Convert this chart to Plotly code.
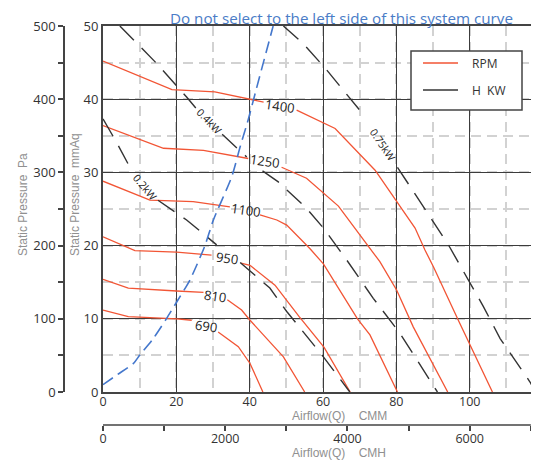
import plotly.graph_objects as go

# ---------------- data ----------------
# Fan curves, static pressure (mmAq) vs airflow (CMM); None = gap under label
rpm_labels = ["1400", "1250", "1100", "950", "810", "690"]
rpm_1400_x = [0, 18.8, 30.5, 40.5, 43.8, None, 52.8, 63.3, 74.2, 80.1, 85.1, 87.8, 90.1, 96.9, 100.1, 106.2]
rpm_1400_y = [45.2, 41.3, 41.0, 40.0, 39.6, None, 38.5, 36.0, 30.3, 26.0, 22.4, 19.4, 17.1, 9.8, 6.4, 0]
rpm_1250_x = [0, 16.5, 27.4, 39.6, None, 48.7, 55.5, 64.2, 71.0, 75.5, 80.1, 84.6, 94.0]
rpm_1250_y = [36.4, 33.3, 33.0, 31.9, None, 30.7, 29.2, 25.4, 20.8, 17.8, 13.9, 8.9, 0]
rpm_1100_x = [0, 12.8, 24.6, 34.6, None, 42.8, 47.4, 50.1, 56.4, 60.1, 69.4, 72.8, 80.3]
rpm_1100_y = [28.8, 26.2, 26.0, 25.3, None, 24.2, 23.5, 22.8, 19.6, 17.5, 10.0, 7.8, 0]
rpm_950_x = [0, 8.7, 20.1, 29.6, None, 37.6, 40.1, 46.9, 53.5, 60.3, 67.4]
rpm_950_y = [21.2, 19.3, 19.1, 18.7, None, 17.6, 17.3, 14.6, 10.3, 6.1, 0]
rpm_810_x = [0, 6.9, 20.1, 27.4, None, 33.9, 37.8, 40.1, 49.2, 55.0]
rpm_810_y = [15.4, 14.2, 13.8, 13.6, None, 12.6, 11.2, 9.8, 4.8, 0]
rpm_690_x = [0, 6.9, 20.1, 24.2, None, 31.4, 36.9, 40.1, 43.6]
rpm_690_y = [11.2, 10.3, 10.0, 9.8, None, 8.2, 6.2, 3.9, 0]

# Power lines (H KW)
kw_labels = ["0.2kW", "0.4kW", "0.75kW"]
kw_02_x = [0, 3.6, 8.2, None, 15.0, 22.8, 31.0, None, 37.4, 45.5, 50.1, 54.6, 60.1, 67.3]
kw_02_y = [37.3, 34.2, 29.9, None, 26.2, 23.5, 20.1, None, 17.7, 14.2, 11.0, 8.2, 4.8, 0]
kw_04_x = [4.6, 14.6, 22.8, 25.3, None, 32.5, 39.2, None, 43.5, 47.8, 55.5, 60.1, 66.5, 73.7, 81.0, 91.2]
kw_04_y = [50.0, 44.9, 40.3, 38.8, None, 35.2, 32.1, None, 30.2, 28.7, 25.1, 22.4, 18.0, 12.8, 8.0, 0]
kw_075_x = [49.2, 54.6, 61.0, 63.3, 70.5, None, 80.3, 91.9, 94.2, 103.7, 108.3, 116.4, 118.0]
kw_075_y = [50.0, 47.6, 44.0, 42.6, 38.2, None, 30.7, 21.7, 20.1, 11.7, 7.3, 1.4, 0]

# System curve
sys_x = [0, 4.0, 8.3, 10.1, 13.7, 17.4, 20.1, 23.7, 27.8, 30.1, 35.1, 37.4, 39.6, 41.5, 46.4]
sys_y = [1.0, 2.4, 3.9, 5.1, 7.3, 10.1, 12.3, 15.3, 20.0, 23.5, 29.4, 33.5, 37.2, 40.8, 50.0]

# Label anchor positions (data coords) and angles
rpm_label_x = [48.3, 44.2, 39.0, 33.7, 30.5, 28.1]
rpm_label_y = [39.1, 31.6, 24.8, 18.3, 13.1, 9.0]
kw_label_x = [11.4, 28.9, 76.4]
kw_label_y = [28.0, 37.0, 33.8]
kw_label_angle = [50, 46, 56]

# Axis ticks
cmm_ticks = [0, 20, 40, 60, 80, 100]
mmaq_ticks = [0, 10, 20, 30, 40, 50]
pa_ticks = [0, 50, 100, 150, 200, 250, 300, 350, 400, 450, 500]
pa_text = ["0", "", "100", "", "200", "", "300", "", "400", "", "500"]
cmh_ticks = [0, 1000, 2000, 3000, 4000, 5000, 6000, 7000]
cmh_text = ["0", "", "2000", "", "4000", "", "6000", ""]

# ---------------- styling ----------------
OFF = 8                      # page body margin of the browser
W, H = 539 - OFF, 463 - OFF  # figure size so it ends at the window edge
PL, PT, PB = 103, 26, 392    # plot edges in window pixels
XMAX = (539 - PL) / 3.667
RED = "#f25535"
DARK = "#333333"
BLUE = "#4477cc"
FONT = "Open Sans"
TFONT = "Liberation Sans"
KW_DASH = "20px,11px"


def px_x(p):
    return (p - OFF) / W


def px_y(p):
    return 1 - (p - OFF) / H


fig = go.Figure()

rpm_sets = [(rpm_1400_x, rpm_1400_y), (rpm_1250_x, rpm_1250_y), (rpm_1100_x, rpm_1100_y),
            (rpm_950_x, rpm_950_y), (rpm_810_x, rpm_810_y), (rpm_690_x, rpm_690_y)]
for xs, ys in rpm_sets:
    fig.add_trace(go.Scatter(x=xs, y=ys, mode="lines", line=dict(color=RED, width=1.3),
                             connectgaps=False, hoverinfo="skip", showlegend=False))

kw_sets = [(kw_02_x, kw_02_y), (kw_04_x, kw_04_y), (kw_075_x, kw_075_y)]
for xs, ys in kw_sets:
    fig.add_trace(go.Scatter(x=xs, y=ys, mode="lines",
                             line=dict(color=DARK, width=1.4, dash=KW_DASH),
                             connectgaps=False, hoverinfo="skip", showlegend=False))

fig.add_trace(go.Scatter(x=sys_x, y=sys_y, mode="lines",
                         line=dict(color=BLUE, width=1.6, dash="12px,6px", shape="spline", smoothing=0.6),
                         hoverinfo="skip", showlegend=False))

# helper traces so secondary axes render
fig.add_trace(go.Scatter(x=[0], y=[0], xaxis="x", yaxis="y2", mode="markers",
                         marker=dict(opacity=0), hoverinfo="skip", showlegend=False))
fig.add_trace(go.Scatter(x=[0], y=[0], xaxis="x2", yaxis="y", mode="markers",
                         marker=dict(opacity=0), hoverinfo="skip", showlegend=False))

ann = []
for t, x, y in zip(rpm_labels, rpm_label_x, rpm_label_y):
    ann.append(dict(x=x, y=y, xref="x", yref="y", text=t, showarrow=False, textangle=8,
                    xanchor="center", yanchor="middle",
                    font=dict(family=FONT, size=13, color="#222")))
for t, x, y, a in zip(kw_labels, kw_label_x, kw_label_y, kw_label_angle):
    ann.append(dict(x=x, y=y, xref="x", yref="y", text=t, showarrow=False, textangle=a,
                    xanchor="center", yanchor="middle",
                    font=dict(family=FONT, size=10.5, color="#222")))

GRAY = "#909090"


def pann(x, y, text, size, color, angle=0, xanchor="center", family=FONT):
    return dict(x=px_x(x), y=px_y(y), xref="paper", yref="paper", showarrow=False,
                text=text, textangle=angle, xanchor=xanchor, yanchor="middle",
                borderpad=0, borderwidth=0,
                font=dict(family=family, size=size, color=color))


ann += [
    pann(341.5, 18, "Do not select to the left side of this system curve", 15.2, "#4a7cc7"),
    pann(75, 195, "Static Pressure\u00a0\u00a0mmAq", 12, GRAY, -90, family=TFONT),
    pann(23, 205, "Static Pressure\u00a0\u00a0Pa", 12, GRAY, -90, family=TFONT),
    pann(339, 416, "Airflow(Q)\u00a0\u00a0\u00a0\u00a0CMM", 12, GRAY, family=TFONT),
    pann(339, 452.5, "Airflow(Q)\u00a0\u00a0\u00a0\u00a0CMH", 12, GRAY, family=TFONT),
    pann(472, 63, "RPM", 12, "#333", xanchor="left"),
    pann(472, 90, "H\u00a0\u00a0KW", 12, "#333", xanchor="left"),
]

shapes = [
    dict(type="rect", xref="paper", yref="paper", x0=px_x(411), x1=px_x(522),
         y0=px_y(110), y1=px_y(51), line=dict(color="#444", width=1.5), fillcolor="white", layer="above"),
    dict(type="line", xref="paper", yref="paper", x0=px_x(423), x1=px_x(458),
         y0=px_y(63), y1=px_y(63), line=dict(color=RED, width=1.3)),
    dict(type="line", xref="paper", yref="paper", x0=px_x(423), x1=px_x(458),
         y0=px_y(90), y1=px_y(90), line=dict(color=DARK, width=1.3)),
    dict(type="line", xref="x2", yref="paper", x0=0, x1=7000,
         y0=px_y(425), y1=px_y(425), line=dict(color="#444", width=1.5)),
]

tickfont = dict(family=FONT, size=13, color="#333")
xtickfont = dict(family=FONT, size=12.5, color="#333")
fig.update_layout(
    template="none",
    width=W, height=H, margin=dict(l=0, r=0, t=0, b=0, pad=0),
    paper_bgcolor="white", plot_bgcolor="white",
    showlegend=False, annotations=ann, shapes=shapes,
    xaxis=dict(domain=[px_x(PL), 1], range=[0, XMAX], tickvals=cmm_ticks, automargin=False,
               showgrid=True, gridcolor="#3c3c3c", gridwidth=1.3,
               minor=dict(dtick=10, showgrid=True, gridcolor="#d2d2d2", griddash="10px,6px", gridwidth=1.8),
               showline=True, linecolor="#444", linewidth=2, mirror=True,
               zeroline=False, ticks="", tickfont=xtickfont, ticklabelstandoff=-3),
    yaxis=dict(domain=[px_y(PB), px_y(PT)], range=[0, 50], tickvals=mmaq_ticks, automargin=False,
               showgrid=True, gridcolor="#3c3c3c", gridwidth=1.3,
               minor=dict(dtick=5, showgrid=True, gridcolor="#d2d2d2", griddash="10px,6px", gridwidth=1.8),
               showline=True, linecolor="#444", linewidth=2,
               zeroline=False, ticks="", tickfont=tickfont),
    yaxis2=dict(overlaying="y", anchor="free", position=px_x(64), side="left", automargin=False,
                range=[0, 500], tickvals=pa_ticks, ticktext=pa_text,
                ticks="outside", ticklen=5, tickcolor="#444", tickwidth=1.5,
                showline=True, linecolor="#444", linewidth=1.5,
                showgrid=False, zeroline=False, tickfont=tickfont),
    xaxis2=dict(overlaying="x", anchor="free", position=px_y(425), side="bottom", automargin=False,
                range=[0, XMAX * 60], tickvals=cmh_ticks, ticktext=cmh_text,
                ticks="outside", ticklen=5, tickcolor="#444", tickwidth=1.5,
                showline=False, showgrid=False, zeroline=False, tickfont=xtickfont,
                ticklabelstandoff=-3),
)

fig.write_html("out.html")
